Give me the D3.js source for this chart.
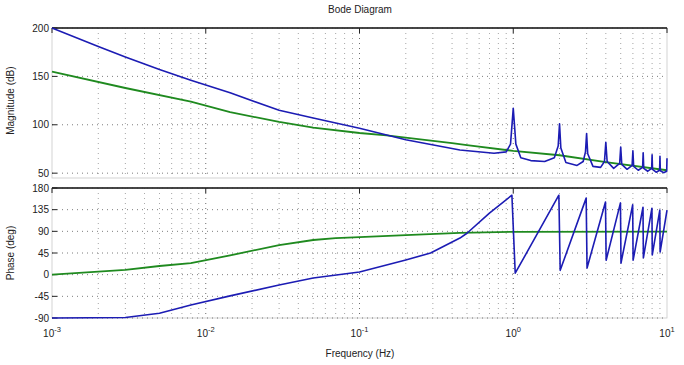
<!DOCTYPE html>
<html>
<head>
<meta charset="utf-8">
<script src="https://cdn.jsdelivr.net/npm/d3@7"></script>
<style>
  body { margin: 0; background: #fff; }
  text { font-family: "Liberation Sans", Arial, sans-serif; fill: #222; }
</style>
</head>
<body>
<svg id="chart" width="684" height="365"></svg>
<script>
// frequency decades on x axis (Hz)
const xDecades = [-3, -2, -1, 0, 1];
const magTicks = [50, 100, 150, 200];
const phaseTicks = [-90, -45, 0, 45, 90, 135, 180];

// blue system, magnitude (dB)
const blueMagFreq = [0.001, 0.002, 0.003, 0.005, 0.008, 0.0144, 0.03, 0.05, 0.1, 0.2, 0.45, 0.75,
  0.9, 0.96, 1.0, 1.04, 1.12, 1.3, 1.6, 1.85, 1.96, 2.0, 2.04, 2.2, 2.6, 2.85, 2.95, 3.0, 3.05,
  3.3, 3.7, 3.92, 4.0, 4.08, 4.5, 4.92, 5.0, 5.08, 5.5, 5.93, 6.0, 6.07, 6.5, 6.94, 7.0, 7.06,
  7.5, 7.95, 8.0, 8.05, 8.5, 8.95, 9.0, 9.05, 9.5, 9.95, 10];
const blueMag = [200, 181, 170, 157, 146, 133, 115, 107, 96.5, 84.5, 74, 70.5,
  72, 80, 117, 80, 66, 63, 62, 66, 78, 101, 76, 61, 58, 62, 72, 91, 70,
  57, 56, 62, 82, 62, 55, 60, 77, 59, 54, 58, 73, 57, 53, 56, 71, 55,
  52, 55, 69, 54, 51, 53, 67.5, 52.5, 50.5, 52, 65.5];

// green system, magnitude (dB)
const greenMagFreq = [0.001, 0.003, 0.008, 0.0144, 0.03, 0.05, 0.1, 0.15, 0.4, 0.5, 1, 2, 4, 10];
const greenMag = [155, 138, 124, 113, 103, 97, 91.5, 89, 81, 79, 73, 68.5, 61.5, 53];

// blue system, phase (deg)
const bluePhaseFreq = [0.001, 0.003, 0.005, 0.008, 0.0144, 0.03, 0.05, 0.1, 0.2, 0.29, 0.45, 0.5, 0.7,
  0.98, 1.03, 1.98, 2.02, 2.98, 3.02, 3.98, 4.02, 4.98, 5.02, 5.98, 6.02, 6.98, 7.02,
  7.98, 8.02, 8.98, 9.02, 10];
const bluePhase = [-90, -89, -80, -63, -44, -21.5, -7, 5.5, 30.5, 45, 76, 86, 128,
  165, 3, 165, 9, 159, 14, 151, 30, 149, 24, 145, 30, 140, 35,
  138, 41, 134, 47, 134];

// green system, phase (deg)
const greenPhaseFreq = [0.001, 0.003, 0.005, 0.008, 0.0144, 0.03, 0.05, 0.07, 0.1, 0.2, 0.45, 1, 10];
const greenPhase = [0, 10, 18, 24, 40, 61.5, 72, 76, 78, 82, 87, 89, 89.5];

const svg = d3.select("#chart");
const left = 52, right = 667;

const x = d3.scaleLog().domain([0.001, 10]).range([left, right]);
const yMag = d3.scaleLinear().domain([45, 200]).range([178, 28]);
const yPhase = d3.scaleLinear().domain([-90, 180]).range([318, 188]);

const blue = "#1c1cb4";
const green = "#1f8a1f";

function drawPanel(y, ticks, fmt) {
  const top = y.range()[1], bottom = y.range()[0];
  const g = svg.append("g");

  // frame
  g.append("rect")
    .attr("x", left).attr("y", top)
    .attr("width", right - left).attr("height", bottom - top)
    .attr("fill", "none").attr("stroke", "#c8c8c8").attr("stroke-width", 0.8);
  g.append("line")
    .attr("x1", left).attr("x2", right).attr("y1", top).attr("y2", top)
    .attr("stroke", "#111").attr("stroke-width", 1.6);

  // vertical grid, decades and minor
  const gridFreqs = [];
  for (let d = -3; d < 1; d++) {
    for (let k = 1; k < 10; k++) gridFreqs.push(k * Math.pow(10, d));
  }
  gridFreqs.push(10);
  g.selectAll("line.vgrid")
    .data(gridFreqs.slice(1, -1))
    .enter()
    .append("line")
    .attr("x1", d => x(d)).attr("x2", d => x(d))
    .attr("y1", top).attr("y2", bottom)
    .attr("stroke", "#333")
    .attr("stroke-width", 0.8)
    .attr("stroke-dasharray", "1,4")
    .attr("opacity", d => Math.abs(Math.log10(d) % 1) < 1e-6 ? 0.9 : 0.55);

  // horizontal grid
  g.selectAll("line.hgrid")
    .data(ticks)
    .enter()
    .append("line")
    .attr("x1", left).attr("x2", right)
    .attr("y1", d => y(d)).attr("y2", d => y(d))
    .attr("stroke", "#333")
    .attr("stroke-width", 0.8)
    .attr("stroke-dasharray", "1,4")
    .attr("opacity", 0.8);

  // left tick marks and labels
  g.selectAll("line.ytick")
    .data(ticks)
    .enter()
    .append("line")
    .attr("x1", left).attr("x2", left + 5)
    .attr("y1", d => y(d)).attr("y2", d => y(d))
    .attr("stroke", "#222");
  g.selectAll("text.ylab")
    .data(ticks)
    .enter()
    .append("text")
    .attr("x", left - 3)
    .attr("y", d => y(d) + 3.5)
    .attr("text-anchor", "end")
    .attr("font-size", 10)
    .text(fmt);

  // top tick marks at decades
  g.selectAll("line.xtick")
    .data(xDecades)
    .enter()
    .append("line")
    .attr("x1", d => x(Math.pow(10, d))).attr("x2", d => x(Math.pow(10, d)))
    .attr("y1", top).attr("y2", top + 5)
    .attr("stroke", "#222");
}

drawPanel(yMag, magTicks, d => d);
drawPanel(yPhase, phaseTicks, d => d);

function drawLine(freqs, vals, y, color, width) {
  const line = d3.line()
    .x(d => x(d[0]))
    .y(d => y(d[1]));
  svg.append("path")
    .datum(d3.zip(freqs, vals))
    .attr("d", line)
    .attr("fill", "none")
    .attr("stroke", color)
    .attr("stroke-width", width)
    .attr("stroke-linejoin", "round");
}

drawLine(greenMagFreq, greenMag, yMag, green, 1.8);
drawLine(blueMagFreq, blueMag, yMag, blue, 1.6);
drawLine(greenPhaseFreq, greenPhase, yPhase, green, 1.8);
drawLine(bluePhaseFreq, bluePhase, yPhase, blue, 1.6);

// x tick labels 10^n
const xl = svg.selectAll("text.xlab")
  .data(xDecades)
  .enter()
  .append("text")
  .attr("x", d => x(Math.pow(10, d)))
  .attr("y", 337)
  .attr("text-anchor", "middle")
  .attr("font-size", 10);
xl.append("tspan").text("10");
xl.append("tspan").attr("dy", -5).attr("font-size", 7.5).text(d => d);

// titles
svg.append("text")
  .attr("x", 360).attr("y", 13)
  .attr("text-anchor", "middle")
  .attr("font-size", 10)
  .text("Bode Diagram");

svg.append("text")
  .attr("x", 360).attr("y", 357)
  .attr("text-anchor", "middle")
  .attr("font-size", 10)
  .text("Frequency (Hz)");

svg.append("text")
  .attr("transform", "translate(14," + (yMag(125)) + ") rotate(-90)")
  .attr("text-anchor", "middle")
  .attr("font-size", 10)
  .text("Magnitude (dB)");

svg.append("text")
  .attr("transform", "translate(14," + (yPhase(45)) + ") rotate(-90)")
  .attr("text-anchor", "middle")
  .attr("font-size", 10)
  .text("Phase (deg)");
</script>
</body>
</html>
